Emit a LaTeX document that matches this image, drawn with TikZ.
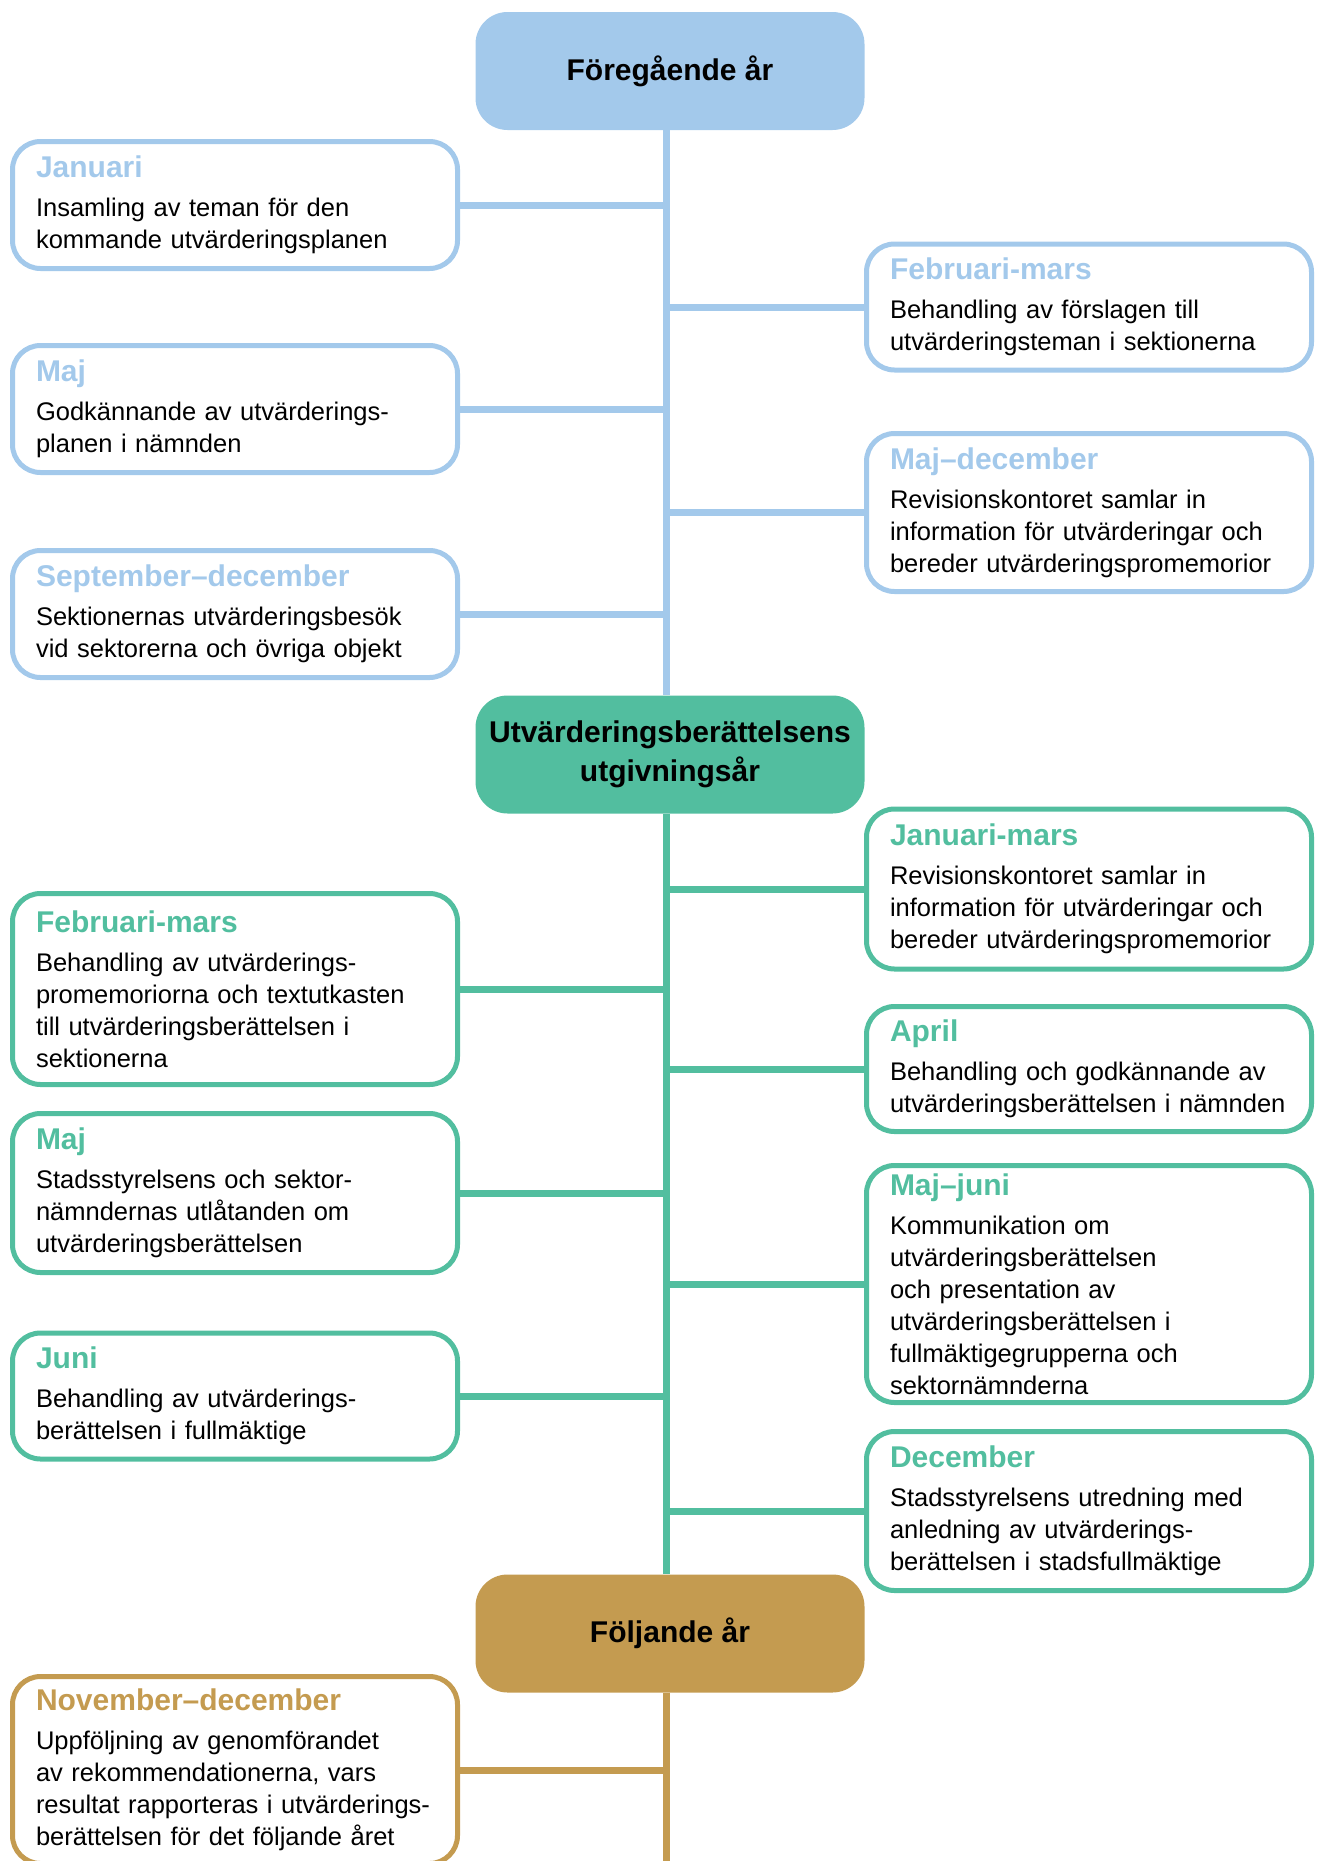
\documentclass[tikz,border=0pt]{standalone}
\usepackage{fontspec}
\setmainfont{Liberation Sans}
\usepackage{xcolor}
\usepackage{tikz}

\definecolor{prevyear}{RGB}{163,201,235}
\definecolor{pubyear}{RGB}{82,190,159}
\definecolor{nextyear}{RGB}{196,155,80}

\newcommand{\bodyfont}{\fontsize{25.5}{32}\selectfont}
\newcommand{\headfont}{\fontsize{30}{36}\selectfont\bfseries}
\newcommand{\titlefont}{\fontsize{30}{39}\selectfont\bfseries}
\newcommand{\when}[2]{{\color{#1}\headfont #2}\\[7pt]}

\begin{document}
\begin{tikzpicture}[x=1pt,y=-1pt]
	\tikzset{year box/.style={fill=#1, rounded corners=32pt, minimum width=389pt, minimum height=118pt, inner sep=0pt, align=center, font=\titlefont},
		month box/.style={draw=#1, line width=5pt, rounded corners=28pt, text width=398pt, inner xsep=23.5pt, inner ysep=0pt, align=left, font=\bodyfont},
		spine/.style={line width=7pt, draw=#1}}
	\useasboundingbox (0,0) rectangle (1317,1861);
	\clip (0,0) rectangle (1317,1861);

	\node[year box=prevyear] (prev) at (670,71) {Föregående år};
	\node[year box=pubyear] (pub) at (670,754.5) {Utvärderingsberättelsens\\utgivningsår};
	\node[year box=nextyear] (next) at (670,1633.5) {Följande år};
	\coordinate (axis) at (666.5,0);
	\coordinate (end) at (666.5,1880);

	\draw[spine=prevyear] (prev.south -| axis) -- (pub.north -| axis);
	\draw[spine=pubyear] (pub.south -| axis) -- (next.north -| axis);
	\draw[spine=nextyear] (next.south -| axis) -- (end);

	% foregaende ar
	\node[month box=prevyear, minimum height=127pt] (jan) at (235,205) {\when{prevyear}{Januari}Insamling av teman för den\\kommande utvärderingsplanen};
	\node[month box=prevyear, minimum height=126pt] (febmar) at (1089,307) {\when{prevyear}{Februari-mars}Behandling av förslagen till\\utvärderingsteman i sektionerna};
	\node[month box=prevyear, minimum height=127pt] (maj) at (235,409) {\when{prevyear}{Maj}Godkännande av utvärderings-\\planen i nämnden};
	\node[month box=prevyear, minimum height=158pt] (majdec) at (1089,512.5) {\when{prevyear}{Maj–december}Revisionskontoret samlar in\\information för utvärderingar och\\bereder utvärderingspromemorior};
	\node[month box=prevyear, minimum height=127pt] (sepdec) at (235,614) {\when{prevyear}{September–december}Sektionernas utvärderingsbesök\\vid sektorerna och övriga objekt};

	\draw[spine=prevyear] (jan.east) -- (jan.east -| axis);
	\draw[spine=prevyear] (febmar.west) -- (febmar.west -| axis);
	\draw[spine=prevyear] (maj.east) -- (maj.east -| axis);
	\draw[spine=prevyear] (majdec.west) -- (majdec.west -| axis);
	\draw[spine=prevyear] (sepdec.east) -- (sepdec.east -| axis);

	% utgivningsar
	\node[month box=pubyear, minimum height=160pt] (pjanmar) at (1089,889) {\when{pubyear}{Januari-mars}Revisionskontoret samlar in\\information för utvärderingar och\\bereder utvärderingspromemorior};
	\node[month box=pubyear, minimum height=191pt] (pfebmar) at (235,989) {\when{pubyear}{Februari-mars}Behandling av utvärderings-\\promemoriorna och textutkasten\\till utvärderingsberättelsen i\\sektionerna};
	\node[month box=pubyear, minimum height=125pt] (papr) at (1089,1069) {\when{pubyear}{April}Behandling och godkännande av\\utvärderingsberättelsen i nämnden};
	\node[month box=pubyear, minimum height=159pt] (pmaj) at (235,1193) {\when{pubyear}{Maj}Stadsstyrelsens och sektor-\\nämndernas utlåtanden om\\utvärderingsberättelsen};
	\node[month box=pubyear, minimum height=237pt] (pmajjun) at (1089,1284) {\when{pubyear}{Maj–juni}Kommunikation om\\utvärderingsberättelsen\\och presentation av\\utvärderingsberättelsen i\\fullmäktigegrupperna och\\sektornämnderna};
	\node[month box=pubyear, minimum height=126pt] (pjun) at (235,1396) {\when{pubyear}{Juni}Behandling av utvärderings-\\berättelsen i fullmäktige};
	\node[month box=pubyear, minimum height=159pt] (pdec) at (1089,1511) {\when{pubyear}{December}Stadsstyrelsens utredning med\\anledning av utvärderings-\\berättelsen i stadsfullmäktige};

	\draw[spine=pubyear] (pjanmar.west) -- (pjanmar.west -| axis);
	\draw[spine=pubyear] (pfebmar.east) -- (pfebmar.east -| axis);
	\draw[spine=pubyear] (papr.west) -- (papr.west -| axis);
	\draw[spine=pubyear] (pmaj.east) -- (pmaj.east -| axis);
	\draw[spine=pubyear] (pmajjun.west) -- (pmajjun.west -| axis);
	\draw[spine=pubyear] (pjun.east) -- (pjun.east -| axis);
	\draw[spine=pubyear] (pdec.west) -- (pdec.west -| axis);

	% foljande ar
	\node[month box=nextyear, minimum height=187pt] (nnovdec) at (235,1770) {\when{nextyear}{November–december}Uppföljning av genomförandet\\av rekommendationerna, vars\\resultat rapporteras i utvärderings-\\berättelsen för det följande året};
	\draw[spine=nextyear] (nnovdec.east) -- (nnovdec.east -| axis);
\end{tikzpicture}
\end{document}
